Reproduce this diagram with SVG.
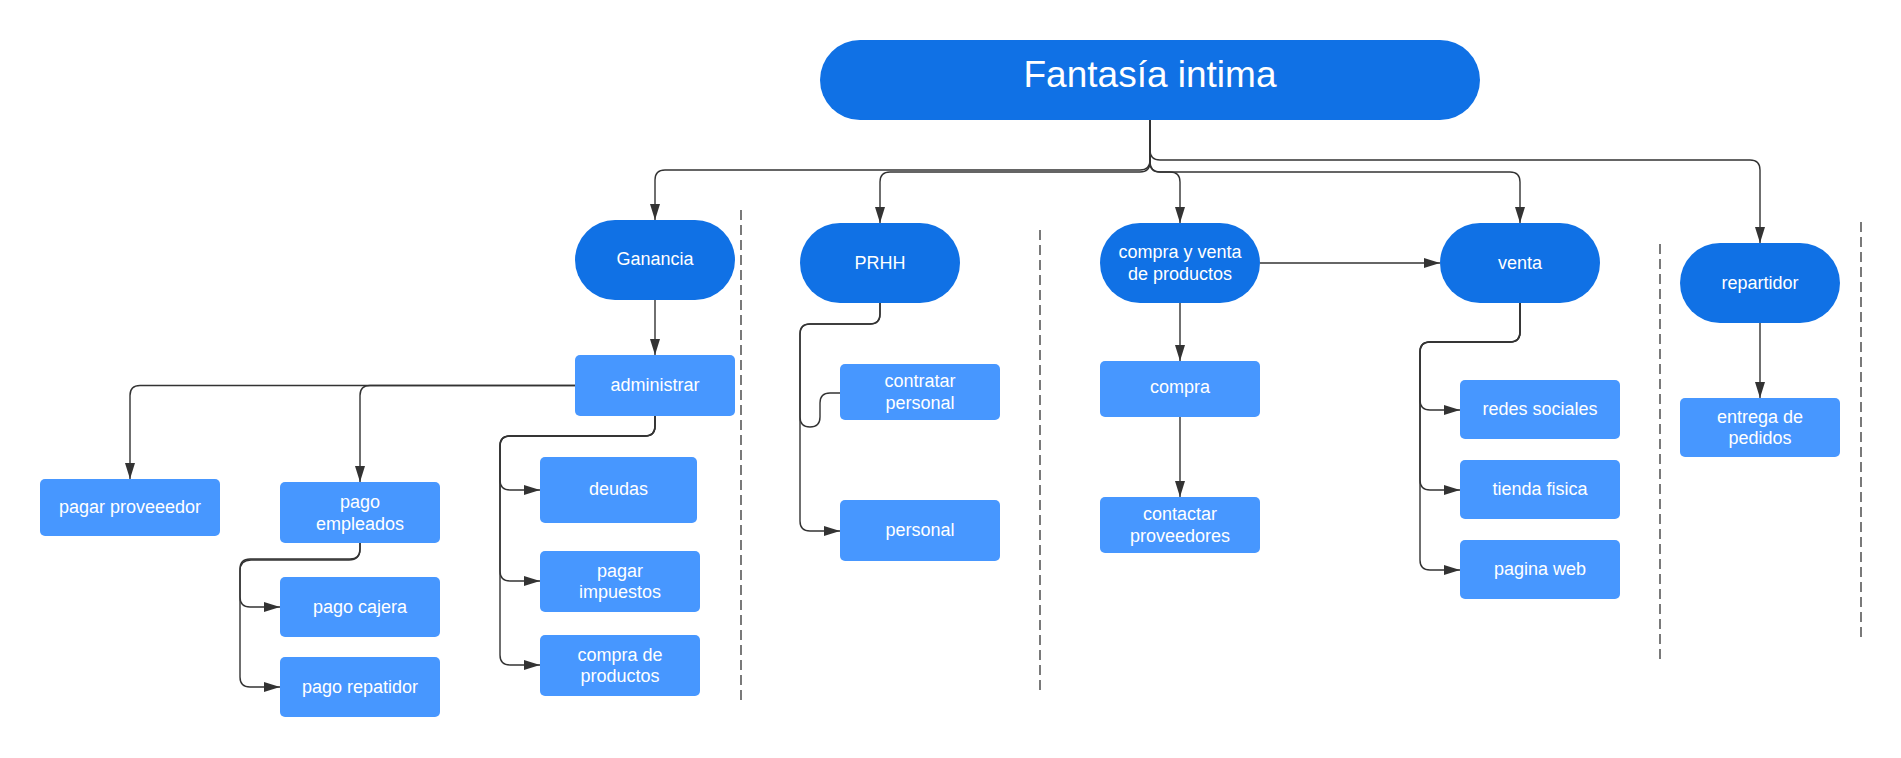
<svg xmlns="http://www.w3.org/2000/svg" width="1901" height="758" viewBox="0 0 1901 758">
<style>
.pill{fill:#1071e5;}
.box{fill:#4797ff;}
.t{font-family:"Liberation Sans",Arial,sans-serif;font-size:18px;fill:#ffffff;text-anchor:middle;}
.title{font-family:"Liberation Sans",Arial,sans-serif;font-size:37px;fill:#ffffff;text-anchor:middle;}
.c{fill:none;stroke:#333333;stroke-width:1.4;}
.a{marker-end:url(#arr);}
.dash{fill:none;stroke:#333333;stroke-width:1.3;stroke-dasharray:10,5;}
</style>
<defs>
<marker id="arr" markerUnits="userSpaceOnUse" markerWidth="17" markerHeight="12" refX="16" refY="5" orient="auto">
<path d="M0,0 L16,5 L0,10 z" fill="#333333"/>
</marker>
</defs>
<rect width="1901" height="758" fill="#ffffff"/>

<g id="separators">
<line class="dash" x1="741" y1="210" x2="741" y2="700"/>
<line class="dash" x1="1040" y1="230" x2="1040" y2="691"/>
<line class="dash" x1="1660" y1="244" x2="1660" y2="660"/>
<line class="dash" x1="1861" y1="222" x2="1861" y2="640"/>
</g>

<g id="connectors">
<path class="c a" d="M1150,120 V160 Q1150,170 1140,170 H665 Q655,170 655,180 V220"/>
<path class="c a" d="M1150,120 V162 Q1150,172 1140,172 H890 Q880,172 880,182 V223"/>
<path class="c a" d="M1150,120 V162 Q1150,172 1160,172 H1170 Q1180,172 1180,182 V223"/>
<path class="c a" d="M1150,120 V162 Q1150,172 1160,172 H1510 Q1520,172 1520,182 V223"/>
<path class="c a" d="M1150,120 V150 Q1150,160 1160,160 H1750 Q1760,160 1760,170 V243"/>
<path class="c a" d="M655,300 V355"/>
<path class="c a" d="M575,385.5 H140 Q130,385.5 130,395.5 V479"/>
<path class="c a" d="M575,385.5 H370 Q360,385.5 360,395.5 V482"/>
<path class="c a" d="M655,416 V426 Q655,436 645,436 H510 Q500,436 500,446 V480 Q500,490 510,490 H540"/>
<path class="c a" d="M655,416 V426 Q655,436 645,436 H510 Q500,436 500,446 V571 Q500,581 510,581 H540"/>
<path class="c a" d="M655,416 V426 Q655,436 645,436 H510 Q500,436 500,446 V655 Q500,665 510,665 H540"/>
<path class="c a" d="M360,543 V549 Q360,559 350,559 H250 Q240,559 240,569 V597 Q240,607 250,607 H280"/>
<path class="c a" d="M360,543 V549 Q360,560 349,560 H251 Q240,560 240,571 V677 Q240,687 250,687 H280"/>
<path class="c" d="M880,303 V314 Q880,324 870,324 H810 Q800,324 800,334 V417 Q800,427 810,427 Q820,427 820,417 V403 Q820,393 830,393 H840"/>
<path class="c a" d="M880,303 V314 Q880,324 870,324 H810 Q800,324 800,334 V521 Q800,531 810,531 H840"/>
<path class="c a" d="M1260,263 H1440"/>
<path class="c a" d="M1180,303 V361"/>
<path class="c a" d="M1180,417 V497"/>
<path class="c a" d="M1520,303 V332 Q1520,342 1510,342 H1430 Q1420,342 1420,352 V400 Q1420,410 1430,410 H1460"/>
<path class="c a" d="M1520,303 V332 Q1520,342 1510,342 H1430 Q1420,342 1420,352 V480 Q1420,490 1430,490 H1460"/>
<path class="c a" d="M1520,303 V332 Q1520,342 1510,342 H1430 Q1420,342 1420,352 V560 Q1420,570 1430,570 H1460"/>
<path class="c a" d="M1760,323 V398"/>
</g>

<g id="n-title">
<rect class="pill" x="820" y="40" width="660" height="80" rx="40"/>
<text class="title" x="1150" y="86.5">Fantasía intima</text>
</g>
<g id="n-ganancia">
<rect class="pill" x="575" y="220" width="160" height="80" rx="40"/>
<text class="t" x="655" y="265">Ganancia</text>
</g>
<g id="n-prhh">
<rect class="pill" x="800" y="223" width="160" height="80" rx="40"/>
<text class="t" x="880" y="269">PRHH</text>
</g>
<g id="n-compraventa">
<rect class="pill" x="1100" y="223" width="160" height="80" rx="40"/>
<text class="t" x="1180" y="258">compra y venta</text>
<text class="t" x="1180" y="279.5">de productos</text>
</g>
<g id="n-venta">
<rect class="pill" x="1440" y="223" width="160" height="80" rx="40"/>
<text class="t" x="1520" y="269">venta</text>
</g>
<g id="n-repartidor">
<rect class="pill" x="1680" y="243" width="160" height="80" rx="40"/>
<text class="t" x="1760" y="289">repartidor</text>
</g>
<g id="n-administrar">
<rect class="box" x="575" y="355" width="160" height="61" rx="5"/>
<text class="t" x="655" y="390.5">administrar</text>
</g>
<g id="n-pagarproveedor">
<rect class="box" x="40" y="479" width="180" height="57" rx="5"/>
<text class="t" x="130" y="512.5">pagar proveeedor</text>
</g>
<g id="n-pagoempleados">
<rect class="box" x="280" y="482" width="160" height="61" rx="5"/>
<text class="t" x="360" y="508">pago</text>
<text class="t" x="360" y="529.5">empleados</text>
</g>
<g id="n-pagocajera">
<rect class="box" x="280" y="577" width="160" height="60" rx="5"/>
<text class="t" x="360" y="612.5">pago cajera</text>
</g>
<g id="n-pagorepatidor">
<rect class="box" x="280" y="657" width="160" height="60" rx="5"/>
<text class="t" x="360" y="692.5">pago repatidor</text>
</g>
<g id="n-deudas">
<rect class="box" x="540" y="457" width="157" height="66" rx="5"/>
<text class="t" x="618.5" y="494.5">deudas</text>
</g>
<g id="n-pagarimpuestos">
<rect class="box" x="540" y="551" width="160" height="61" rx="5"/>
<text class="t" x="620" y="576.5">pagar</text>
<text class="t" x="620" y="598">impuestos</text>
</g>
<g id="n-compraproductos">
<rect class="box" x="540" y="635" width="160" height="61" rx="5"/>
<text class="t" x="620" y="660.5">compra de</text>
<text class="t" x="620" y="682">productos</text>
</g>
<g id="n-contratar">
<rect class="box" x="840" y="364" width="160" height="56" rx="5"/>
<text class="t" x="920" y="387">contratar</text>
<text class="t" x="920" y="408.5">personal</text>
</g>
<g id="n-personal">
<rect class="box" x="840" y="500" width="160" height="61" rx="5"/>
<text class="t" x="920" y="535.5">personal</text>
</g>
<g id="n-compra">
<rect class="box" x="1100" y="361" width="160" height="56" rx="5"/>
<text class="t" x="1180" y="393">compra</text>
</g>
<g id="n-contactar">
<rect class="box" x="1100" y="497" width="160" height="56" rx="5"/>
<text class="t" x="1180" y="520">contactar</text>
<text class="t" x="1180" y="541.5">proveedores</text>
</g>
<g id="n-redes">
<rect class="box" x="1460" y="380" width="160" height="59" rx="5"/>
<text class="t" x="1540" y="415">redes sociales</text>
</g>
<g id="n-tienda">
<rect class="box" x="1460" y="460" width="160" height="59" rx="5"/>
<text class="t" x="1540" y="495">tienda fisica</text>
</g>
<g id="n-pagina">
<rect class="box" x="1460" y="540" width="160" height="59" rx="5"/>
<text class="t" x="1540" y="575">pagina web</text>
</g>
<g id="n-entrega">
<rect class="box" x="1680" y="398" width="160" height="59" rx="5"/>
<text class="t" x="1760" y="422.5">entrega de</text>
<text class="t" x="1760" y="444">pedidos</text>
</g>
</svg>
